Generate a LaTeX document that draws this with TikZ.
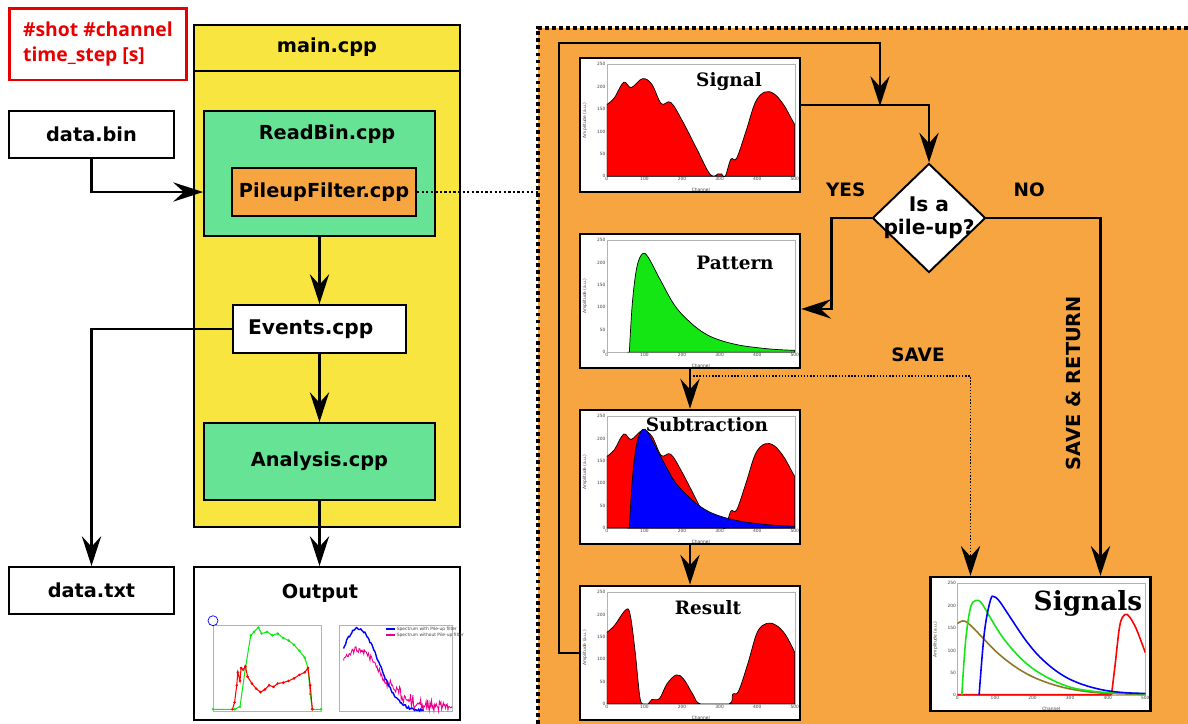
\documentclass[tikz,border=0pt]{standalone}
\usepackage{fontspec}
\setsansfont{DejaVu Sans}
\newfontfamily\notefont{Open Sans}
\newfontfamily\titlefont{DejaVu Serif}
\usetikzlibrary{arrows.meta, positioning, calc, shapes.geometric}

\definecolor{panelorange}{RGB}{247,165,65}
\definecolor{mainyellow}{RGB}{249,229,64}
\definecolor{filegreen}{RGB}{102,227,148}
\definecolor{notered}{RGB}{232,0,0}
\definecolor{plotred}{RGB}{255,0,0}
\definecolor{plotgreen}{RGB}{20,230,20}
\definecolor{plotblue}{RGB}{0,0,255}
\definecolor{olivebrown}{RGB}{140,120,40}

% axes of one spectrum (channel 0..500, amplitude 0..250)
\newcommand{\plotaxes}{%
  \draw[axes] (0,0) rectangle (500,250);
  \foreach \c in {0,100,...,500} \node[ticklbl, below] at (\c,0) {\c};
  \foreach \a in {0,50,...,250} \node[ticklbl, left] at (0,\a) {\a};
  \node[ticklbl] at (250,-30) {Channel};
  \node[ticklbl, rotate=90] at (-58,125) {Amplitude (a.u.)};
}
\newcommand{\signalfill}{%
  \fill[plotred, draw=black, line width=0.4pt] (0,0) -- plot[smooth, tension=0.6] coordinates {(0,160) (20,175) (45,210) (65,198) (95,218) (120,205) (145,162) (170,165) (200,125) (240,60) (270,10) (285,0) (295,5) (305,5) (315,0) (330,38) (345,40) (370,100) (395,165) (420,188) (445,184) (470,160) (490,130) (500,115)} -- (500,0) -- cycle;
}
\newcommand{\patternfill}[1]{%
  \fill[#1, draw=black, line width=0.4pt] (55,0) -- plot[smooth, tension=0.6] coordinates {(60,0) (68,110) (80,190) (95,220) (110,212) (140,165) (180,105) (220,68) (260,42) (300,27) (350,16) (400,10) (450,6) (500,4)} -- (500,0) -- cycle;
}

\begin{document}
\begin{tikzpicture}[
  x=0.02cm, y=-0.02cm,
  box/.style={rectangle, draw, line width=1.1pt, inner sep=0pt,
              font=\sffamily\bfseries\fontsize{11}{13}\selectfont},
  boxtext/.style={font=\sffamily\bfseries\fontsize{11}{13}\selectfont},
  notebox/.style={rectangle, draw=notered, line width=1.7pt, text=notered,
                  minimum width=3.56cm, minimum height=1.44cm, align=left,
                  font=\notefont\bfseries\fontsize{11}{14}\selectfont},
  plotbox/.style={rectangle, draw, line width=1.4pt, fill=white,
                  minimum width=4.4cm, minimum height=2.68cm, inner sep=0pt},
  decision/.style={diamond, draw, line width=1.1pt, fill=white,
                   minimum width=2.26cm, minimum height=2.18cm, inner sep=0pt},
  arr/.style={-{Stealth[length=17pt, width=11pt, inset=6pt]}, line width=1.3pt},
  lbl/.style={font=\sffamily\bfseries\fontsize{10.5}{12}\selectfont},
  ptitle/.style={font=\titlefont\bfseries\fontsize{10.5}{12}\selectfont},
  axes/.style={draw=gray!60, line width=0.3pt},
  ticklbl/.style={font=\sffamily\fontsize{2.5}{3}\selectfont, inner sep=0.6pt,
                  text=gray!50!black},
  plotarea/.style={shift={#1}, x=0.00752cm, y=0.00896cm},
  bigdots/.style={line width=2.2pt, dash pattern=on 2.2pt off 1.8pt},
]
\useasboundingbox (0,0) rectangle (1188,724);
\pgfmathsetseed{7}

% right panel: the pile-up filter
\fill[panelorange] (538,28) rectangle (1188,724);
\draw[bigdots] (538,724) -- (538,28) -- (1188,28);
\coordinate (panelnw) at (538,28);

% left part: program files
\node[notebox] (note) at (98,44) {\#shot \#channel\\time\_step [s]};

\node[box, fill=mainyellow, minimum width=5.32cm, minimum height=10.04cm] (main) at (327,276) {};
\draw[line width=1.1pt] ([yshift=-0.94cm]main.north west) -- ([yshift=-0.94cm]main.north east);
\node[boxtext] (maintitle) at ($(main.north)+(0,23)$) {main.cpp};

\node[box, fill=white, minimum width=3.3cm, minimum height=0.94cm] (databin) at (91.5,134.5) {data.bin};
\node[box, fill=filegreen, minimum width=4.62cm, minimum height=2.5cm] (readbin) at (319.5,173.5) {};
\node[boxtext] (readbintitle) at (327,134) {ReadBin.cpp};
\node[box, fill=panelorange, minimum width=3.68cm, minimum height=0.96cm] (pileup) at (324,192) {PileupFilter.cpp};
\node[box, fill=white, minimum width=3.46cm, minimum height=0.96cm,
      font=\sffamily\bfseries\fontsize{11.5}{13}\selectfont] (events) at (319.5,329) {Events.cpp\hspace*{10pt}};
\node[box, fill=filegreen, minimum width=4.62cm, minimum height=1.54cm] (analysis) at (319.5,461.5) {Analysis.cpp};
\node[box, fill=white, minimum width=3.3cm, minimum height=0.94cm] (datatxt) at (91.5,590.5) {data.txt};
\node[box, fill=white, minimum width=5.32cm, minimum height=3.06cm] (output) at (327,643.5) {};
\node[boxtext] (outputtitle) at (320,593) {Output};

% output: rate vs time
\begin{scope}[shift={(213,711)}, x=2.16cm, y=1.72cm]
  \draw[axes] (0,0) rectangle (1,1);
  \draw[plotblue, line width=0.4pt] (0,1.05) circle[radius=0.1cm];
  \draw[plotgreen, line width=0.6pt] plot[mark=*, mark size=0.4pt] coordinates {(0,0.02) (0.2,0.02) (0.25,0.05) (0.3,0.5) (0.35,0.88) (0.38,0.92) (0.42,0.97) (0.45,0.9) (0.5,0.92) (0.55,0.88) (0.6,0.9) (0.65,0.85) (0.7,0.82) (0.75,0.77) (0.8,0.7) (0.85,0.62) (0.88,0.5) (0.9,0.2) (0.92,0.02) (1,0.02)};
  \draw[plotred, line width=0.6pt] plot[mark=*, mark size=0.4pt] coordinates {(0.18,0.02) (0.2,0.1) (0.22,0.3) (0.23,0.45) (0.25,0.35) (0.26,0.5) (0.28,0.48) (0.3,0.52) (0.32,0.4) (0.36,0.32) (0.4,0.26) (0.44,0.22) (0.48,0.25) (0.52,0.3) (0.56,0.28) (0.6,0.32) (0.65,0.33) (0.7,0.35) (0.75,0.38) (0.8,0.42) (0.85,0.45) (0.88,0.5) (0.9,0.3) (0.92,0.02)};
\end{scope}
% output: spectra with and without filter
\begin{scope}[shift={(339,711)}, x=2.26cm, y=1.72cm]
  \draw[axes] (0,0) rectangle (1,1);
  \draw[magenta, line width=0.5pt] plot[domain=0.04:1, samples=140]
    (\x, {min(0.95, max(0, 0.72*exp(-((\x-0.17)/0.28)^2) + 0.04*rand + (\x>0.45)*0.12*abs(rand)))});
  \draw[plotblue, line width=0.8pt] plot[domain=0.04:0.75, samples=80]
    (\x, {max(0, 0.96*exp(-((\x-0.17)/0.25)^2) + 0.015*rand)});
  \draw[plotblue, line width=1pt] (0.42,0.95) -- (0.5,0.95);
  \node[ticklbl, right] at (0.5,0.95) {Spectrum with Pile-up filter};
  \draw[magenta, line width=1pt] (0.42,0.88) -- (0.5,0.88);
  \node[ticklbl, right] at (0.5,0.88) {Spectrum without Pile-up filter};
\end{scope}

% spectra of the filter
\node[plotbox] (signal) at (690,125) {};
\node[plotbox, below=0.79cm of signal] (pattern) {};
\node[plotbox, below=0.79cm of pattern] (subtr) {};
\node[plotbox, below=0.79cm of subtr] (result) {};
\node[plotbox] (signals) at (1040.5,644) {};

\begin{scope}[plotarea={($(signal.south west)+(28,-17)$)}]
  \plotaxes
  \begin{scope}
    \clip (0,0) rectangle (500,250);
    \signalfill
  \end{scope}
\end{scope}
\begin{scope}[plotarea={($(pattern.south west)+(28,-17)$)}]
  \plotaxes
  \begin{scope}
    \clip (0,0) rectangle (500,250);
    \patternfill{plotgreen}
  \end{scope}
\end{scope}
\begin{scope}[plotarea={($(subtr.south west)+(28,-17)$)}]
  \plotaxes
  \begin{scope}
    \clip (0,0) rectangle (500,250);
    \signalfill
    \patternfill{plotblue}
  \end{scope}
\end{scope}
\begin{scope}[plotarea={($(result.south west)+(28,-17)$)}]
  \plotaxes
  \begin{scope}
    \clip (0,0) rectangle (500,250);
    \fill[plotred, draw=black, line width=0.4pt] (0,0) -- plot[smooth, tension=0.6] coordinates {(0,160) (20,175) (50,210) (62,200) (75,120) (88,15) (98,0) (110,0) (120,10) (140,12) (160,45) (185,65) (205,55) (230,20) (250,0) (325,0) (335,22) (350,28) (375,90) (400,160) (425,180) (450,176) (475,155) (500,115)} -- (500,0) -- cycle;
  \end{scope}
\end{scope}
\begin{scope}[plotarea={($(signals.south west)+(28,-17)$)}]
  \plotaxes
  \begin{scope}
    \clip (0,0) rectangle (500,250);
    \draw[plotred, line width=0.9pt] (0,1) -- (410,1) plot[smooth, tension=0.6] coordinates {(410,1) (420,70) (432,155) (445,180) (458,175) (475,150) (490,118) (500,95)};
    \draw[olivebrown, line width=0.9pt] plot[smooth, tension=0.6] coordinates {(0,160) (15,166) (30,160) (60,135) (100,100) (140,72) (180,50) (220,34) (270,20) (320,11) (380,5) (440,3) (500,2)};
    \draw[plotgreen, line width=0.9pt] plot[smooth, tension=0.6] coordinates {(12,0) (22,120) (35,195) (50,212) (65,205) (90,170) (120,130) (160,90) (200,60) (250,35) (300,18) (350,10) (400,6) (500,3)};
    \draw[plotblue, line width=0.9pt] plot[smooth, tension=0.6] coordinates {(58,0) (72,140) (88,212) (98,220) (112,210) (140,175) (180,125) (220,85) (270,50) (320,28) (380,13) (440,6) (500,4)};
  \end{scope}
\end{scope}

\node[ptitle] (signaltitle) at (729,82) {Signal};
\node[ptitle] (patterntitle) at (735,263) {Pattern};
\node[ptitle] (subtrtitle) at (707,425) {Subtraction};
\node[ptitle] (resulttitle) at (708,608) {Result};
\node[ptitle, font=\titlefont\bfseries\fontsize{15}{17}\selectfont] (signalstitle) at (1088,603) {Signals};

\node[decision, label={[lbl, font=\sffamily\bfseries\fontsize{11.5}{13}\selectfont, align=center]center:{Is a\\pile-up?}}] (pileq) at (929,218) {};

\coordinate (sigout) at ($(signal.north east)+(0,48)$);
\coordinate (loopjoin) at (880,106);
\coordinate (looptop) at (880,43);
\coordinate (noin) at ($(signals.north)+(60,0)$);
\coordinate (savein) at ($(signals.north)+(-70,0)$);
\coordinate (savefrom) at ($(pattern.south)+(0,7)$);

% left connectors
\draw[arr] (databin.south) |- (readbin.west |- pileup.west);
\draw[arr] (readbin.south) -- (events.north);
\draw[arr] (events.west) -| (datatxt.north);
\draw[arr] (events.south) -- (analysis.north);
\draw[arr] (analysis.south) -- (analysis.south |- output.north);
\draw[line width=1.3pt, dash pattern=on 1.3pt off 1.3pt] (pileup.east) -- (pileup.east -| panelnw);

% filter connectors
\draw[arr] (result.west) -- ++(-20,0) |- (looptop) -- (loopjoin);
\draw[arr] (sigout) -| (pileq.north);
\draw[arr] (pileq.west) -- ++(-40,0) |- ([yshift=-0.16cm]pattern.east);
\draw[arr] (pileq.east) -| (noin);
\draw[arr] (pattern.south) -- (subtr.north);
\draw[arr] (subtr.south) -- (result.north);
\draw[arr, line width=0.8pt, densely dotted] (savefrom) -| (savein);

\node[lbl, above left=0.3cm and 0cm of pileq.west] (yes) {YES};
\node[lbl, above right=0.3cm and 0.42cm of pileq.east] (no) {NO};
\node[lbl] (save) at (918,355) {SAVE};
\node[lbl, rotate=90, font=\sffamily\bfseries\fontsize{11}{13}\selectfont] (saveret) at (1073,383) {SAVE \& RETURN};
\end{tikzpicture}
\end{document}
